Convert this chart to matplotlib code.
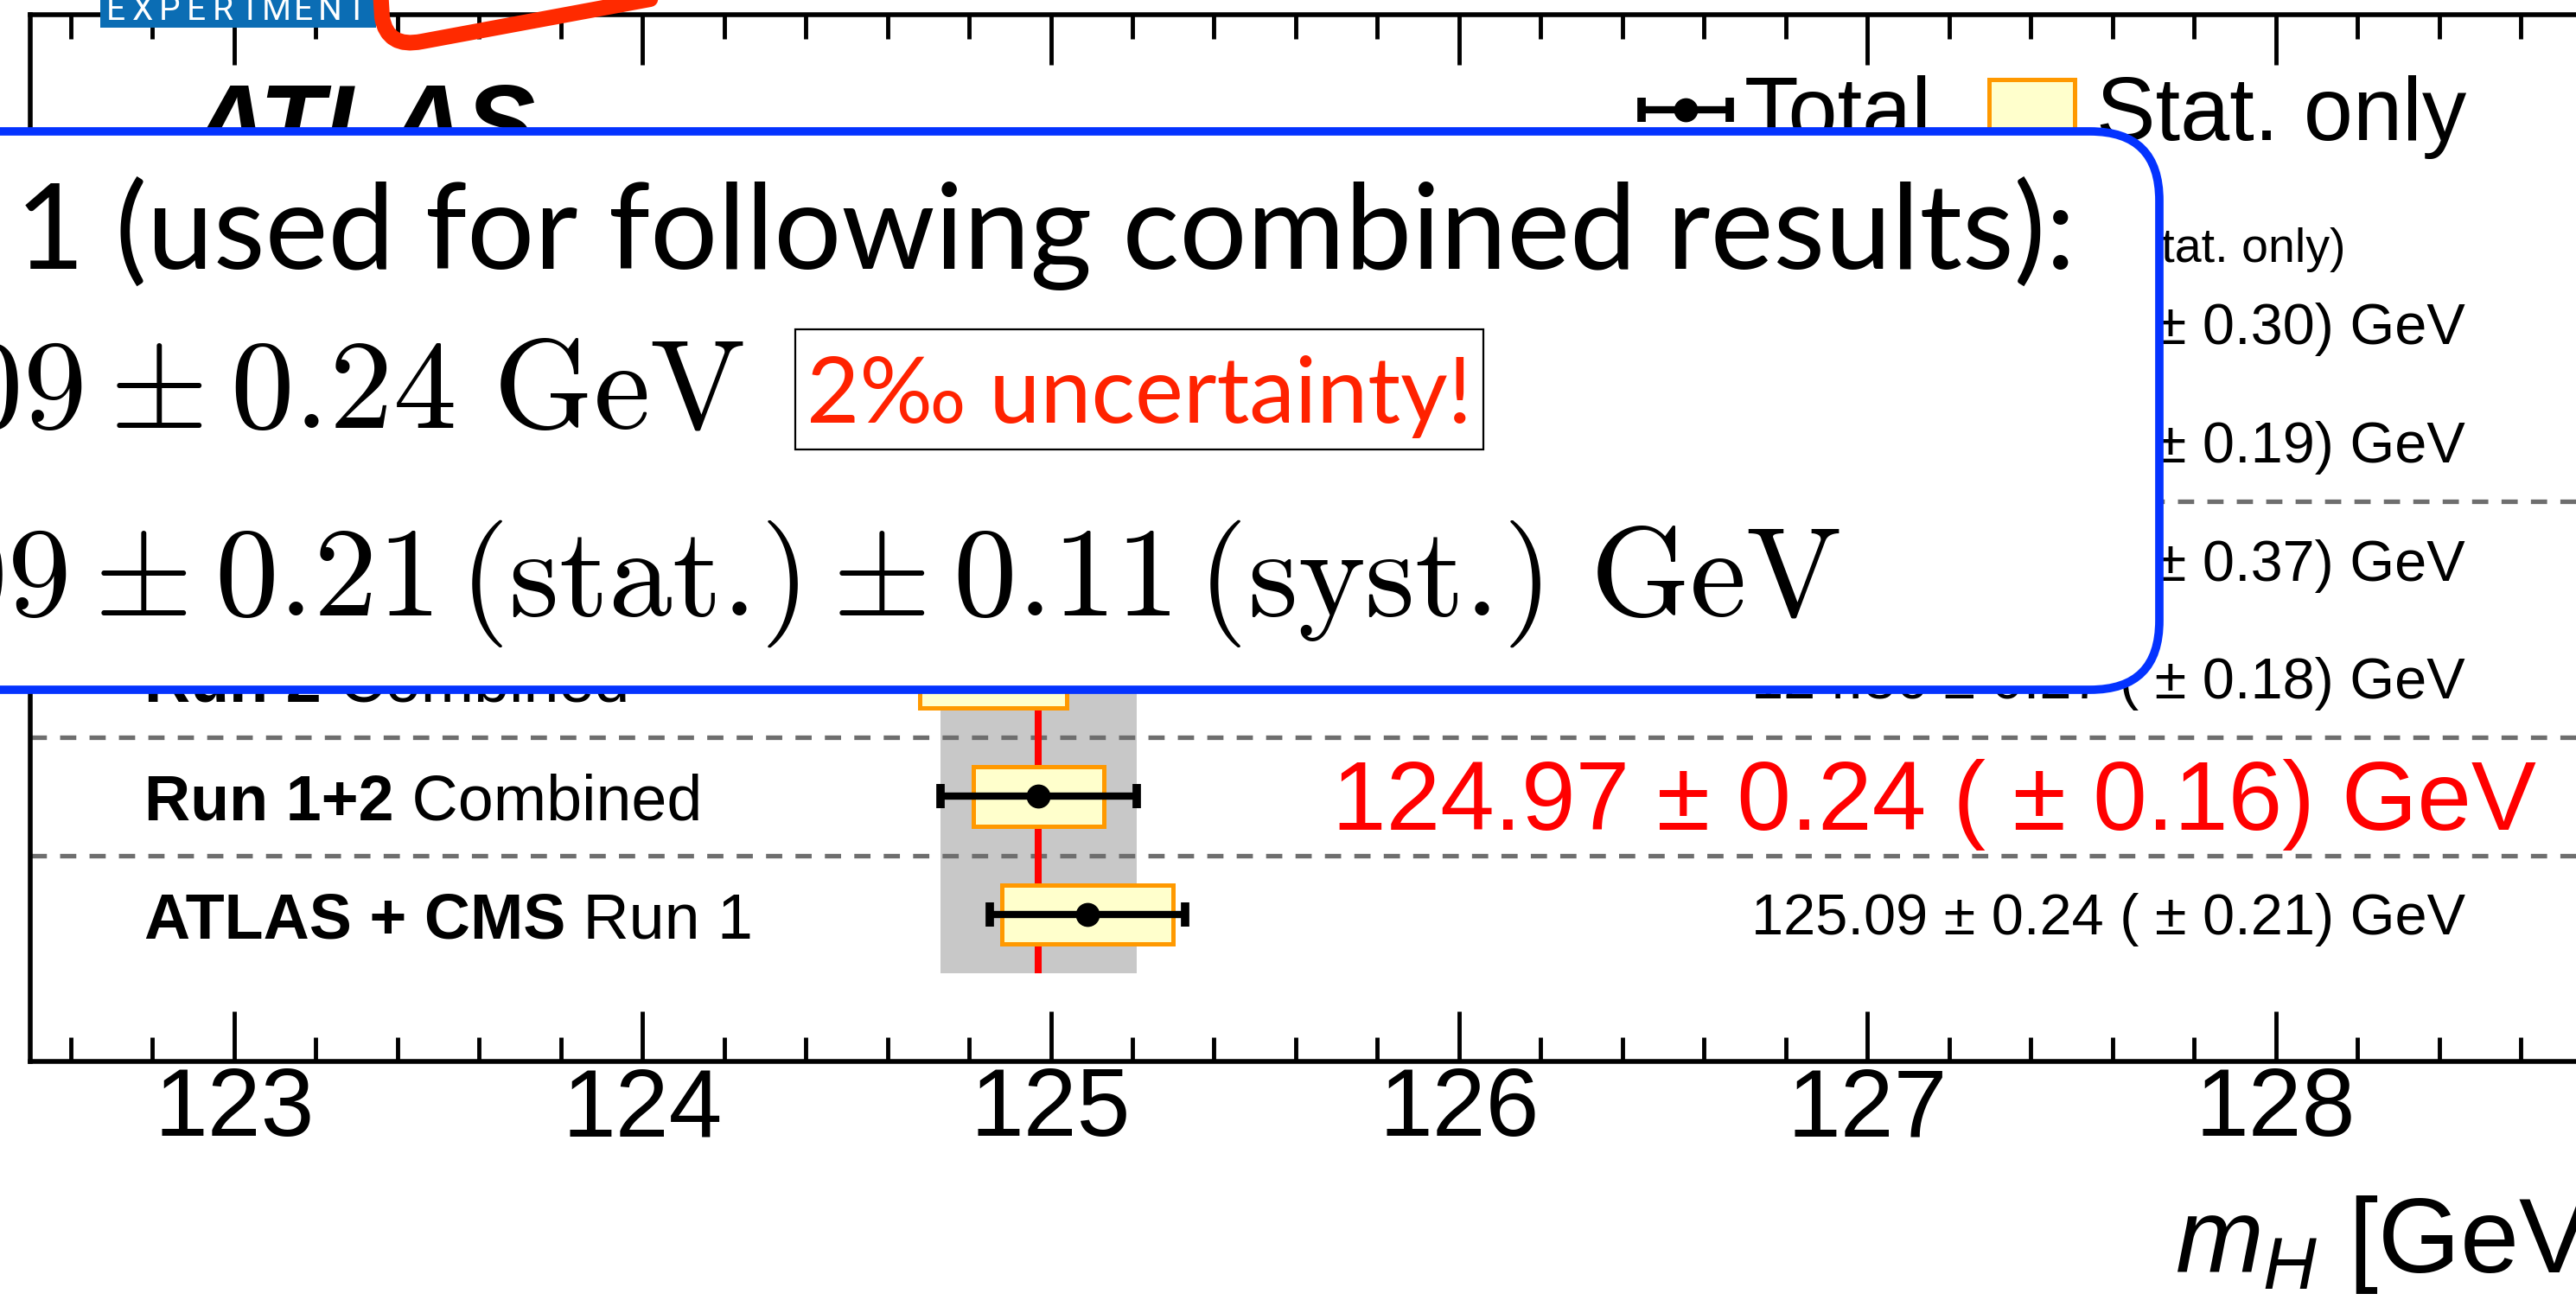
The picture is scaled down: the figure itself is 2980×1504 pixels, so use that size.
import numpy as np
import matplotlib.pyplot as plt
from matplotlib.patches import FancyBboxPatch, Rectangle, PathPatch
from matplotlib.path import Path
from matplotlib.ticker import MultipleLocator

plt.rcParams['font.family'] = ['Liberation Sans', 'DejaVu Sans']
plt.rcParams['mathtext.fontset'] = 'custom'
plt.rcParams['mathtext.rm'] = 'Liberation Sans'
plt.rcParams['mathtext.it'] = 'Liberation Sans:italic'
plt.rcParams['mathtext.bf'] = 'Liberation Sans:bold'
plt.rcParams['lines.scale_dashes'] = False

# mass measurements, top row first
label_bold = ['H→ZZ*→4ℓ', 'H→γγ', 'Run 1', 'Run 2', 'Run 1+2', 'ATLAS + CMS']
label_rest = ['Run 1+2', 'Run 1+2', 'Combined', 'Combined', 'Combined', 'Run 1']
mass = np.array([124.71, 125.32, 125.38, 124.86, 124.97, 125.09])
err_total = np.array([0.30, 0.35, 0.41, 0.27, 0.24, 0.24])
err_stat = np.array([0.30, 0.19, 0.37, 0.18, 0.16, 0.21])
separators = [3.5, 1.5, 0.5]
best = 4  # Run 1+2 combined result, drawn as the reference band

ypos = np.arange(len(mass))[::-1]

W, H = 2980, 1504
fig = plt.figure(figsize=(W / 100, H / 100), dpi=100)

# frame geometry in pixels
px_per_gev = 472.4
left_px, top_px, bot_px = 34.5, 17, 1227.5
row_px, last_row_px = 136.6, 1058
xmin, xmax = 122.5, 129.5

ax = fig.add_axes([left_px / W, 1 - bot_px / H,
                   (xmax - xmin) * px_per_gev / W, (bot_px - top_px) / H])
ax.set_xlim(xmin, xmax)
ax.set_ylim(-(bot_px - last_row_px) / row_px, (last_row_px - top_px) / row_px)


def gx(px):
    return xmin + (px - left_px) / px_per_gev


def gy(px):
    return (last_row_px - px) / row_px


# combined band and central line
ax.fill_betweenx([-0.5, len(mass) - 0.5], mass[best] - err_total[best], mass[best] + err_total[best],
                  color='#c8c8c8', lw=0, zorder=1)
for s in separators:
    ax.axhline(s, color='#6e6e6e', lw=3.8, dashes=(13.5, 11), zorder=2)
ax.vlines(mass[best], -0.5, len(mass) - 0.5, color='#ff0000', lw=5.8, zorder=3)

ax.barh(ypos, 2 * err_stat, left=mass - err_stat, height=0.5,
        color='#ffffcc', edgecolor='#ff9900', lw=3.6, zorder=4)
ax.errorbar(mass, ypos, xerr=err_total, fmt='o', color='k', ms=19,
            elinewidth=6, capsize=10, capthick=7, zorder=5)

# row labels and values
for i in range(len(mass)):
    y = ypos[i]
    t = ax.text(gx(167), y - 0.198, label_bold[i], fontsize=53, fontweight='bold', va='baseline')
    ax.annotate(' ' + label_rest[i], xy=(1, 0), xycoords=t, fontsize=53, va='bottom')
    val = f'{mass[i]:.2f} ± {err_total[i]:.2f} ( ± {err_stat[i]:.2f}) GeV'
    if i == best:
        ax.text(gx(2934), y - 0.285, val, fontsize=81, color='#ff0000', ha='right', va='baseline')
    else:
        ax.text(gx(2852), y - 0.172, val, fontsize=48, ha='right', va='baseline')

ax.text(gx(2714), gy(303), 'Total (Stat. only)', fontsize=40, ha='right', va='baseline')
ax.text(gx(222), gy(184), 'ATLAS', fontsize=88, fontweight='bold', fontstyle='italic', va='baseline')

# legend
ax.errorbar([gx(1950)], [gy(127)], xerr=[gx(2001) - gx(1950)], fmt='o', color='k', ms=19,
            elinewidth=6, capsize=10, capthick=7, zorder=5)
ax.add_patch(Rectangle((gx(2301), gy(162)), gx(2400) - gx(2301), gy(92) - gy(162),
                       facecolor='#ffffcc', edgecolor='#ff9900', lw=3.6, zorder=4))
ax.text(gx(2018), gy(162), 'Total', fontsize=74, va='baseline')
ax.text(gx(2425), gy(162), 'Stat. only', fontsize=74, va='baseline')

ax.set_yticks([])
ax.xaxis.set_major_locator(MultipleLocator(1))
ax.xaxis.set_minor_locator(MultipleLocator(0.2))
ax.tick_params(axis='x', which='both', direction='in', top=True, bottom=True,
               width=3.5, labelsize=80, pad=4)
ax.tick_params(axis='x', which='major', length=42)
ax.tick_params(axis='x', which='minor', length=20)
for sp in ax.spines.values():
    sp.set_linewidth(4)

fig.text(2516 / W, 1 - 1472 / H, r'$m_H$ [GeV]', fontsize=88, va='baseline')

# slide overlay drawn in pixel coordinates
ov = fig.add_axes([0, 0, 1, 1], zorder=10)
ov.set_xlim(0, W)
ov.set_ylim(H, 0)
ov.axis('off')
ov.patch.set_visible(False)

ov.add_patch(Rectangle((116, -5), 319, 37, facecolor='#0b6db4', lw=0))
for k, ch in enumerate('EXPERIMENT'):
    ov.text(134 + k * 31, 23, ch, color='white', fontsize=28, family='Roboto',
            ha='center', va='baseline')

scribble = Path([(440, -12), (442, 20), (448, 56), (488, 48), (790, -8)],
                [Path.MOVETO, Path.LINETO, Path.CURVE3, Path.CURVE3, Path.LINETO])
ov.add_patch(PathPatch(scribble, fill=False, edgecolor='#ff2a00', lw=13,
                       capstyle='round', joinstyle='round'))

ov.add_patch(FancyBboxPatch((-150, 152), 2648, 646, boxstyle='round,pad=0,rounding_size=80',
                            facecolor='white', edgecolor='#0433ff', lw=7))

renderer = fig.canvas.get_renderer()


def fit_width(txt, width):
    w = txt.get_window_extent(renderer).width
    txt.set_fontsize(txt.get_fontsize() * width / w)


t1 = ov.text(18, 311, '1 (used for following combined results):', family='Lato',
             fontsize=100, va='baseline')
fit_width(t1, 2384)

ov.text(861, 496, r'$m_H = 125.09 \pm 0.24\ \mathrm{GeV}$', math_fontfamily='cm',
        fontsize=106, ha='right', va='baseline')
ov.text(2129, 712, r'$m_H = 125.09 \pm 0.21\,(\mathrm{stat.}\!) \pm 0.11\,(\mathrm{syst.}\!)\ \mathrm{GeV}$',
        math_fontfamily='cm', fontsize=106, ha='right', va='baseline')

ov.add_patch(Rectangle((920, 381), 796, 139, fill=False, edgecolor='black', lw=1.6))
t2 = ov.text(933, 489, '2‰ uncertainty!', color='#ff2200', family='Lato', fontsize=80,
             va='baseline')
fit_width(t2, 770)

fig.savefig('out.png', dpi=100)
